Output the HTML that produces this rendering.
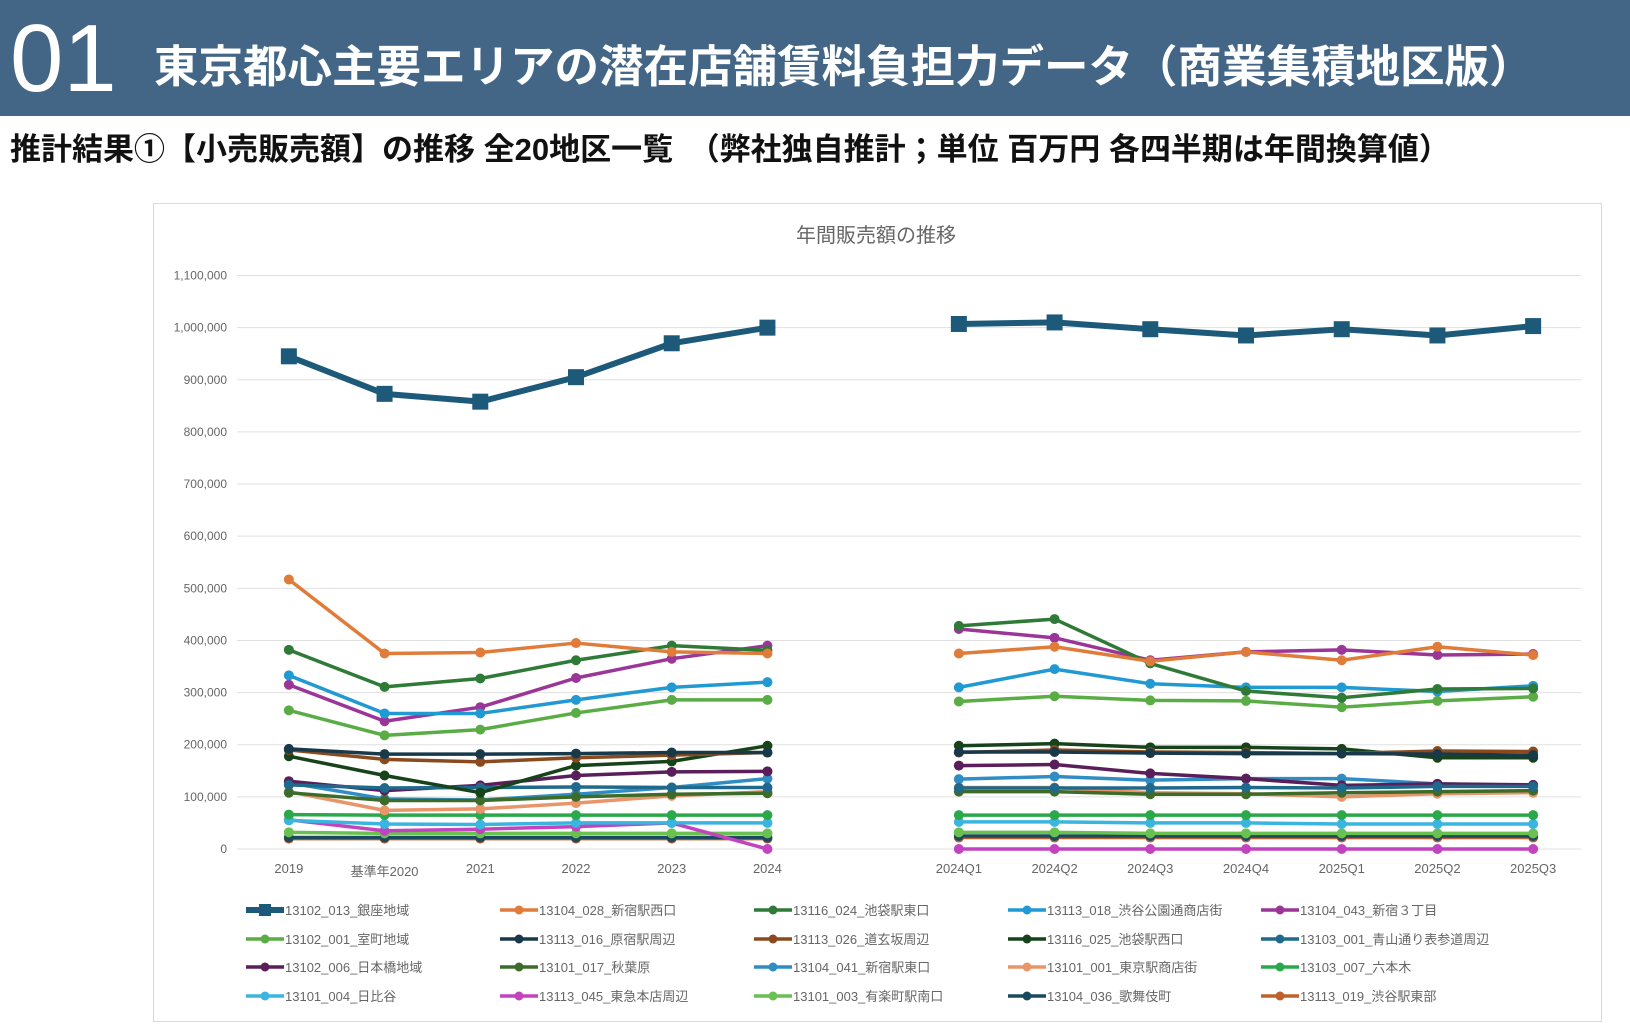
<!DOCTYPE html>
<html><head><meta charset="utf-8">
<style>
body{margin:0;width:1630px;height:1033px;background:#fff;overflow:hidden;font-family:"Liberation Sans","Noto Sans CJK JP",sans-serif;}
#hdr{position:absolute;left:0;top:0;width:1630px;height:116px;background:#436687;}
#num{position:absolute;left:10px;top:4px;color:#fff;font-size:96px;line-height:110px;font-weight:300;font-family:"Liberation Sans","Noto Sans CJK JP",sans-serif;}
#ttl{position:absolute;left:154px;top:39px;color:#fff;font-size:44.5px;font-weight:bold;line-height:58px;white-space:nowrap;}
#sub{position:absolute;left:10px;top:130px;color:#111;font-size:31px;font-weight:bold;line-height:40px;white-space:nowrap;}
#box{position:absolute;left:153px;top:203px;width:1447px;height:817px;border:1px solid #d9d9d9;}
svg{position:absolute;left:0;top:0;}
</style></head><body>
<div id="hdr"></div>
<div id="num">01</div>
<div id="ttl">東京都心主要エリアの潜在店舗賃料負担力データ（商業集積地区版）</div>
<div id="sub">推計結果①【小売販売額】の推移 全20地区一覧　（弊社独自推計；単位 百万円 各四半期は年間換算値）</div>
<div id="box"></div>
<svg id="chart" width="1630" height="1033"></svg>
<script>
const categories=["2019","基準年2020","2021","2022","2023","2024","","2024Q1","2024Q2","2024Q3","2024Q4","2025Q1","2025Q2","2025Q3"];
const yTicks=[0,100000,200000,300000,400000,500000,600000,700000,800000,900000,1000000,1100000];
const seriesNames=["13102_013_銀座地域","13104_028_新宿駅西口","13116_024_池袋駅東口","13113_018_渋谷公園通商店街","13104_043_新宿３丁目","13102_001_室町地域","13113_016_原宿駅周辺","13113_026_道玄坂周辺","13116_025_池袋駅西口","13103_001_青山通り表参道周辺","13102_006_日本橋地域","13101_017_秋葉原","13104_041_新宿駅東口","13101_001_東京駅商店街","13103_007_六本木","13101_004_日比谷","13113_045_東急本店周辺","13101_003_有楽町駅南口","13104_036_歌舞伎町","13113_019_渋谷駅東部"];
const seriesColors=["#1d5a7a","#e07b39","#2e7a36","#2199d2","#9b3597","#5aac44","#17394a","#8b4a1e","#16431a","#1f6a8c","#5a1e5a","#3d6b2a","#2f8dc4","#e8956a","#2aa84a","#3ab5e0","#c242c0","#6ac050","#1b4a5e","#c0602a"];
const v0=[945,873,858,905,970,1000,null,1007,1010,997,985,997,985,1003];
const v1=[517,375,377,395,378,375,null,375,388,360,378,362,388,372];
const v2=[382,311,327,362,390,381,null,428,441,356,303,290,307,308];
const v3=[333,260,260,286,310,320,null,310,345,317,310,310,302,313];
const v4=[315,245,272,328,365,390,null,422,405,362,378,382,372,374];
const v5=[266,218,229,261,286,286,null,283,293,285,284,272,284,292];
const v6=[192,182,182,183,185,185,null,186,186,184,183,183,182,180];
const v7=[190,172,167,175,180,185,null,185,190,186,185,183,188,187];
const v8=[178,141,108,160,168,198,null,198,202,195,195,192,175,175];
const v9=[123,117,118,119,118,118,null,117,117,117,118,117,120,120];
const v10=[130,112,122,141,148,149,null,160,162,145,135,122,125,123];
const v11=[108,93,93,100,105,107,null,110,110,105,105,108,110,112];
const v12=[127,96,94,105,118,135,null,134,139,132,135,135,125,122];
const v13=[110,74,77,88,102,110,null,118,118,108,106,100,106,108];
const v14=[66,65,65,65,65,65,null,65,65,65,65,65,65,65];
const v15=[55,48,47,50,50,50,null,52,52,50,50,48,48,48];
const v16=[56,35,38,43,50,0,null,0,0,0,0,0,0,0];
const v17=[32,30,30,30,30,30,null,32,32,30,30,30,30,30];
const v18=[22,22,22,22,22,22,null,25,25,25,25,25,25,25];
const v19=[20,20,20,20,20,20,null,22,22,22,22,22,22,22];
const allSeries=[v0,v1,v2,v3,v4,v5,v6,v7,v8,v9,v10,v11,v12,v13,v14,v15,v16,v17,v18,v19];

const NS="http://www.w3.org/2000/svg";
const svg=document.getElementById('chart');
const L=241,R=1581,Y0=849,YT=275.5;
const step=(R-L)/categories.length;
const xs=i=>L+step*(i+0.5);
const ys=v=>Y0-(v/1100000)*(Y0-YT);
function mk(t,a){const e=document.createElementNS(NS,t);for(const k in a)e.setAttribute(k,a[k]);svg.appendChild(e);return e;}

let t=mk('text',{x:876,y:242,'text-anchor':'middle','font-size':20,fill:'#666'});t.textContent='年間販売額の推移';


yTicks.forEach(v=>{
  const g=mk('line',{x1:L-4,x2:R,y1:ys(v),y2:ys(v),stroke:'#e0e0e0','stroke-width':1});
  
  
  const tx=mk('text',{x:227,y:ys(v)+4,'text-anchor':'end','font-size':12,fill:'#666'});
  tx.textContent=v.toLocaleString('en-US');
  
  
});
categories.forEach((c,i)=>{
  if(!c)return;
  const tx=mk('text',{x:xs(i),y:i==1?876:873,'text-anchor':'middle','font-size':13,fill:'#666'});
  tx.textContent=c;
  
  
});
for(let s=allSeries.length-1;s>=0;s--){
  const d=allSeries[s],col=seriesColors[s],big=s===0;
  let segs=[],cur=[];
  d.forEach((v,i)=>{if(v===null){if(cur.length)segs.push(cur);cur=[];}else cur.push([xs(i),ys(v*1000)]);});
  if(cur.length)segs.push(cur);
  segs.forEach(p=>{
    const pl=mk('polyline',{points:p.map(q=>q.join(',')).join(' '),fill:'none',stroke:col,'stroke-width':big?6:3.5,'stroke-linejoin':'round'});
    
    
  });
  d.forEach((v,i)=>{
    if(v===null)return;
    const x=xs(i),y=ys(v*1000);
    const m=big?mk('rect',{x:x-8,y:y-8,width:16,height:16,fill:col}):mk('circle',{cx:x,cy:y,r:5,fill:col});
    
    
  });
}
const legX=[246,500,754,1008,1261],legY=[910,939,967,996];
seriesNames.forEach((n,i)=>{
  const x=legX[i%5],y=legY[Math.floor(i/5)],col=seriesColors[i];
  const g=document.createElementNS(NS,'g');svg.appendChild(g);
  
  
  const ln=document.createElementNS(NS,'line');
  ln.setAttribute('x1',x);ln.setAttribute('x2',x+38);ln.setAttribute('y1',y);ln.setAttribute('y2',y);ln.setAttribute('stroke',col);ln.setAttribute('stroke-width',i==0?6:3.5);g.appendChild(ln);
  let m;
  if(i==0){m=document.createElementNS(NS,'rect');m.setAttribute('x',x+13);m.setAttribute('y',y-6);m.setAttribute('width',12);m.setAttribute('height',12);}
  else{m=document.createElementNS(NS,'circle');m.setAttribute('cx',x+19);m.setAttribute('cy',y);m.setAttribute('r',4.5);}
  m.setAttribute('fill',col);g.appendChild(m);
  const tx=document.createElementNS(NS,'text');tx.setAttribute('x',x+39);tx.setAttribute('y',y+5);tx.setAttribute('font-size',13);tx.setAttribute('fill','#666');tx.textContent=n;g.appendChild(tx);
});
</script>
</body></html>
